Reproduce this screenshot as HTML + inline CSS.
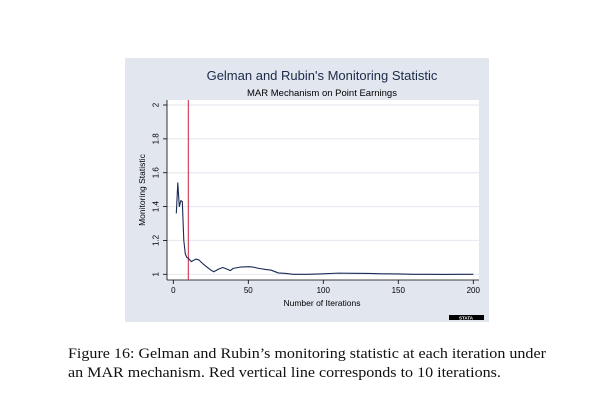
<!DOCTYPE html>
<html><head><meta charset="utf-8"><style>
body{margin:0;background:#fff;width:601px;height:417px;overflow:hidden;position:relative;font-family:"Liberation Sans",sans-serif}
.cap{position:absolute;left:68px;top:345px;width:520px;font-family:"Liberation Serif",serif;font-size:14.6px;line-height:19px;color:#111;white-space:nowrap;transform:scaleX(1.1);transform-origin:0 0}
</style></head><body>
<svg width="601" height="417" style="position:absolute;left:0;top:0">
<rect x="125" y="58" width="364" height="264" fill="#e1e6ef"/>
<rect x="167" y="100" width="312" height="180" fill="#fff"/>
<text x="322" y="80" text-anchor="middle" font-size="13" fill="#1c2a48">Gelman and Rubin's Monitoring Statistic</text>
<text x="322" y="96" text-anchor="middle" font-size="9.5" fill="#000">MAR Mechanism on Point Earnings</text>
<g id="grid"></g><g id="axes"></g>
<text transform="translate(145,190) rotate(-90)" text-anchor="middle" font-size="8.5" fill="#000">Monitoring Statistic</text>
<text x="322" y="306" text-anchor="middle" font-size="8.5" fill="#000">Number of Iterations</text>
<g id="series"></g>
<g><rect x="449" y="315" width="35" height="5" fill="#000"/><text x="466" y="319.5" text-anchor="middle" font-size="4.5" fill="#fff" font-weight="bold">STATA</text></g>
</svg>
<div class="cap">Figure 16: Gelman and Rubin’s monitoring statistic at each iteration under<br>an MAR mechanism. Red vertical line corresponds to 10 iterations.</div>
<script>
const iterations=[2,3,4,5,6,7,8,9,10,12,15,17,20,25,27,30,33,36,38,40,45,50,53,57,62,65,70,75,80,90,100,110,120,130,140,150,160,170,180,190,200];
const stat=[1.36,1.54,1.40,1.435,1.43,1.2,1.12,1.10,1.095,1.075,1.09,1.085,1.06,1.025,1.015,1.03,1.04,1.03,1.022,1.035,1.043,1.045,1.043,1.035,1.028,1.025,1.008,1.005,1.0,1.0,1.003,1.007,1.006,1.005,1.003,1.002,1.0,1.0,0.999,1.0,1.0];
const xTicks=[0,50,100,150,200];
const yTicks=[1,1.2,1.4,1.6,1.8,2];
const refLine=[10];
const NS='http://www.w3.org/2000/svg';
const X=v=>173.3+v*1.5, Y=v=>274.3-(v-1)*169.3;
function mk(t,a,p){const e=document.createElementNS(NS,t);for(const k in a)e.setAttribute(k,a[k]);document.getElementById(p).appendChild(e);return e;}
yTicks.forEach(v=>{
 const g=mk('line',{x1:167,x2:479,y1:Y(v),y2:Y(v),stroke:'#e6eaf1','stroke-width':1.2},'grid');
 
 
 const t=mk('line',{x1:163,x2:167,y1:Y(v),y2:Y(v),stroke:'#000','stroke-width':0.8},'axes');
 
 
 const l=mk('text',{transform:`translate(${158.5},${Y(v)}) rotate(-90)`,'text-anchor':'middle','font-size':8,fill:'#000'},'axes');
 l.textContent=String(v);
 
 
});
xTicks.forEach(v=>{
 const t=mk('line',{x1:X(v),x2:X(v),y1:280,y2:284,stroke:'#000','stroke-width':0.8},'axes');
 
 
 const l=mk('text',{x:X(v),y:293,'text-anchor':'middle','font-size':8,fill:'#000'},'axes');
 l.textContent=String(v);
 
 
});
const ya=mk('line',{x1:167,x2:167,y1:100,y2:280,stroke:'#000','stroke-width':0.8},'axes');


const xa=mk('line',{x1:167,x2:479,y1:280,y2:280,stroke:'#000','stroke-width':0.8},'axes');


const rl=mk('line',{x1:X(refLine[0]),x2:X(refLine[0]),y1:100,y2:280,stroke:'#c8213f','stroke-width':1},'series');


const pl=mk('polyline',{points:iterations.map((v,i)=>X(v)+','+Y(stat[i])).join(' '),fill:'none',stroke:'#1a2a55','stroke-width':1.1,'stroke-linejoin':'round'},'series');


</script>
</body></html>
